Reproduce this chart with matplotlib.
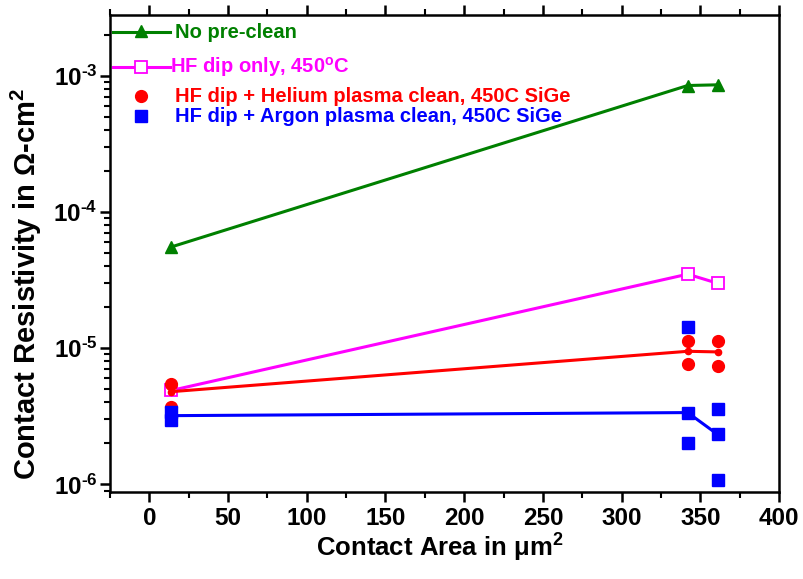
import numpy as np
import matplotlib
matplotlib.use("Agg")
import matplotlib.pyplot as plt
from matplotlib.lines import Line2D
from matplotlib.ticker import LogLocator, MultipleLocator, NullFormatter

plt.rcParams['font.family'] = ['Liberation Sans', 'DejaVu Sans']
plt.rcParams['font.weight'] = 'bold'
plt.rcParams['mathtext.fontset'] = 'custom'
plt.rcParams['mathtext.rm'] = 'Liberation Sans:bold'
plt.rcParams['mathtext.bf'] = 'Liberation Sans:bold'
plt.rcParams['mathtext.it'] = 'Liberation Sans:bold'

# Daten
area = [14, 342, 361]
no_preclean = [5.55e-5, 8.5e-4, 8.6e-4]
hf_only = [4.9e-6, 3.5e-5, 3.0e-5]
he_mean = [4.8e-6, 9.5e-6, 9.4e-6]
ar_mean = [3.2e-6, 3.37e-6, 2.33e-6]

he_x = [14, 14, 342, 342, 361, 361]
he_pts = [5.5e-6, 3.7e-6, 1.13e-5, 7.7e-6, 1.13e-5, 7.4e-6]
ar_x = [14, 14, 342, 342, 342, 361, 361, 361]
ar_pts = [3.4e-6, 2.95e-6, 1.44e-5, 3.37e-6, 2.03e-6, 3.56e-6, 2.33e-6, 1.08e-6]

labels = ["No pre-clean", "HF dip only, 450$^\\mathrm{o}$C",
          "HF dip + Helium plasma clean, 450C SiGe",
          "HF dip + Argon plasma clean, 450C SiGe"]
ytick_vals = [1e-6, 1e-5, 1e-4, 1e-3]
ytick_labels = ['10$^{\\text{-6}}$', '10$^{\\text{-5}}$', '10$^{\\text{-4}}$', '10$^{\\text{-3}}$']

GREEN, MAGENTA, RED, BLUE = '#008000', '#ff00ff', '#ff0000', '#0000ff'

fig = plt.figure(figsize=(8.04, 5.79), dpi=100)
ax = fig.add_axes([110/804, 1-492/579, 669/804, 477/579])

ax.plot(area, no_preclean, '-', color=GREEN, lw=2.2, marker='^', ms=9, zorder=3)
ax.plot(area, hf_only, '-', color=MAGENTA, lw=2.2, marker='s', ms=8,
        mfc='white', mec=MAGENTA, mew=1.3, zorder=3)
ax.plot(area, he_mean, '-', color=RED, lw=2.2, marker='o', ms=4.5, zorder=3)
ax.plot(he_x, he_pts, 'o', color=RED, ms=8.5, zorder=4)
ax.plot(area, ar_mean, '-', color=BLUE, lw=2.2, zorder=3)
ax.plot(ar_x, ar_pts, 's', color=BLUE, ms=8, zorder=4)

ax.set_yscale('log')
ax.set_xlim(-25, 400)
ax.set_ylim(8.8e-7, 2.8e-3)

ax.xaxis.set_major_locator(MultipleLocator(50))
ax.xaxis.set_minor_locator(MultipleLocator(25))
ax.yaxis.set_minor_locator(LogLocator(base=10, subs=np.arange(2, 10), numticks=20))
ax.yaxis.set_minor_formatter(NullFormatter())
ax.set_yticks(ytick_vals)
ax.set_yticklabels(ytick_labels)

ax.tick_params(axis='both', which='major', direction='out', length=7, width=1.8,
               labelsize=17.5, top=True, right=False)
ax.tick_params(axis='both', which='minor', direction='out', length=4, width=1.5,
               top=True, right=False)
ax.tick_params(axis='y', which='major', pad=2)
for lab in ax.get_xticklabels() + ax.get_yticklabels():
    lab.set_fontweight('bold')
for sp in ax.spines.values():
    sp.set_linewidth(1.8)

# Achsentitel
fig.text(440/804, (579-564)/579, 'Contact Area in $\\mu$m$^{\\mathrm{2}}$', fontsize=18.5,
         fontweight='bold', ha='center', va='bottom')
fig.text(26/804, (579-284)/579, 'Contact Resistivity in $\\Omega$-cm$^{\\mathrm{2}}$',
         fontsize=21, fontweight='bold', ha='center', va='center', rotation=90)

# Legende (von Hand, wie im Original)
tr = ax.transAxes
def ax_y(py):
    return (492 - py) / 477
def ax_x(px):
    return (px - 110) / 669

ax.add_line(Line2D([ax_x(113), ax_x(170)], [ax_y(32)] * 2, color=GREEN, lw=2.2, transform=tr))
ax.add_line(Line2D([ax_x(141)], [ax_y(31)], marker='^', ms=9, color=GREEN, transform=tr))
ax.add_line(Line2D([ax_x(113), ax_x(170)], [ax_y(67)] * 2, color=MAGENTA, lw=2.2, transform=tr))
ax.add_line(Line2D([ax_x(141)], [ax_y(67)], marker='s', ms=8, mfc='white', mec=MAGENTA,
                   mew=1.3, transform=tr))
ax.add_line(Line2D([ax_x(141)], [ax_y(96)], marker='o', ms=8.5, color=RED, transform=tr))
ax.add_line(Line2D([ax_x(141)], [ax_y(116)], marker='s', ms=8, color=BLUE, transform=tr))

for py, px, lab, col in [(32, 175, labels[0], GREEN), (67, 170, labels[1], MAGENTA),
                         (96, 175, labels[2], RED), (116, 175, labels[3], BLUE)]:
    ax.text(ax_x(px), ax_y(py), lab, color=col, fontsize=14.5, fontweight='bold',
            va='center', transform=tr)

fig.savefig('out.png', dpi=100)
